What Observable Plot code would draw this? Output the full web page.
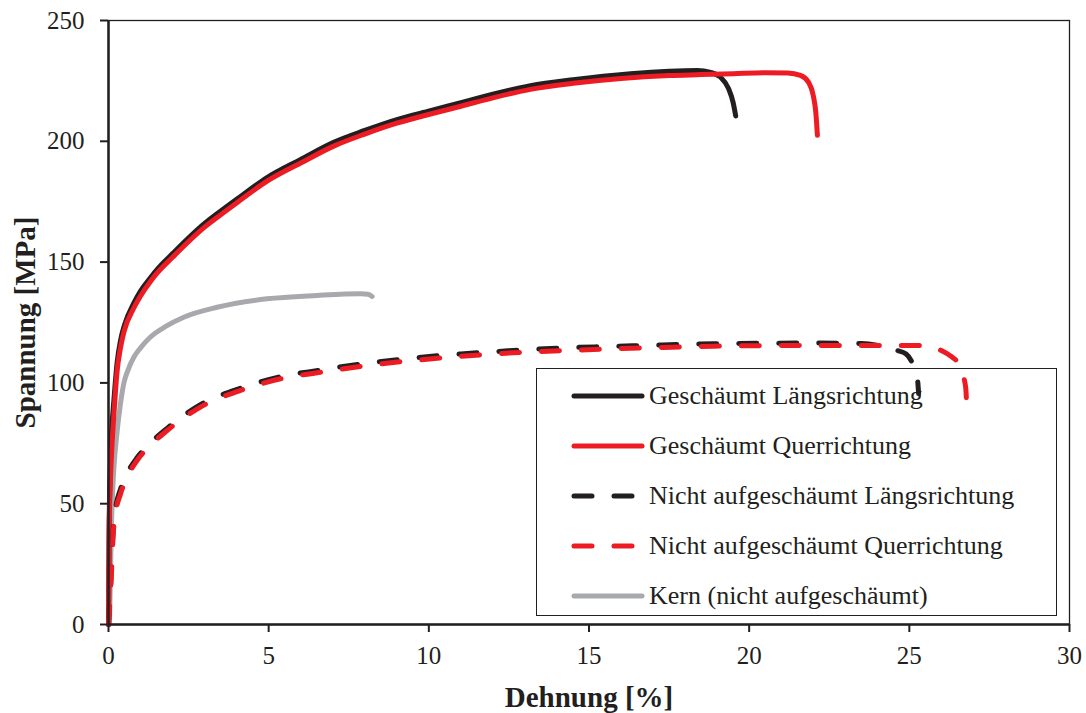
<!DOCTYPE html>
<html>
<head>
<meta charset="utf-8">
<script src="https://cdn.jsdelivr.net/npm/d3@7"></script>
<script src="https://cdn.jsdelivr.net/npm/@observablehq/plot@0.6"></script>
<style>
  html, body { margin: 0; padding: 0; background: #fff; }
  #wrap { position: relative; width: 1086px; height: 713px; }
  #wrap > svg { position: absolute; left: 0; top: 0; z-index: 2; background: transparent !important; }
  #legend {
    position: absolute; left: 536px; top: 368px; width: 519px; height: 246px;
    border: 1.5px solid #231f20; background: #fff; z-index: 1;
    font-family: "Liberation Serif", serif; font-size: 26px; color: #231f20;
  }
  .item { position: absolute; left: 0; height: 30px; display: flex; align-items: center; white-space: nowrap; }
  .item svg { margin-left: 34px; margin-right: 4px; }
</style>
</head>
<body>
<div id="wrap"></div>
<script>
// ---- data (strain [%], stress [MPa]) ----
const seriesNames = [
  "Geschäumt Längsrichtung",
  "Geschäumt Querrichtung",
  "Nicht aufgeschäumt Längsrichtung",
  "Nicht aufgeschäumt Querrichtung",
  "Kern (nicht aufgeschäumt)"
];
const xTicks = [0, 5, 10, 15, 20, 25, 30];
const yTicks = [0, 50, 100, 150, 200, 250];

const gesLaengs = [
  [0,0],[0.02,40],[0.05,62],[0.1,80],[0.17,93],[0.27,108.5],[0.375,117.5],[0.5,124],
  [0.79,133],[1.0,138],[1.31,143.5],[1.52,147],[2.0,153.5],[3.0,166],[3.39,170],
  [4.0,176],[4.95,185],[6.0,192.5],[7.03,199.6],[8.0,204.5],[9.0,209],[10.05,212.7],
  [11.0,216],[12.0,219.5],[13.17,223],[14.5,225.5],[16.3,228],[17.5,229],[18.38,229.3],
  [18.8,228.5],[19.1,226.6],[19.35,222],[19.5,216],[19.58,210.5]
];
const gesQuer = [
  [0,0],[0.02,38],[0.06,59.6],[0.1,72],[0.17,87],[0.27,105],[0.375,114.5],[0.48,121],
  [0.79,131],[1.0,136],[1.31,142],[1.52,145.5],[2.0,152],[3.0,164.5],[3.39,168.5],
  [4.0,174.5],[4.95,183.5],[6.0,191],[7.03,198],[8.0,203],[9.0,207.5],[10.05,211.3],
  [11.0,214.5],[12.0,218],[13.17,221.5],[14.5,224],[16.0,226],[17.5,227.2],[18.5,227.6],
  [19.5,228],[20.5,228.4],[21.2,228.3],[21.6,227.3],[21.85,224.5],[22.0,219],
  [22.08,212],[22.13,202.5]
];
const nichtLaengs = [
  [0,0],[0.08,20],[0.15,40],[0.22,48],[0.375,56],[0.6,63],[0.89,69],[1.3,75],[1.83,81.2],
  [2.87,91],[4.12,97.8],[5.37,102.6],[6.62,105.3],[8.08,108.2],[9.53,110.3],[11,112],
  [12.65,113.4],[14.2,114.5],[15.78,115.1],[17.3,115.7],[18.9,116.2],[20.5,116.4],
  [22.0,116.5],[23.5,116.3],[24.2,115],[24.6,113.5],[24.9,112],[25.1,108],[25.25,102],
  [25.29,95.6]
];
const nichtQuer = [
  [0,0],[0.08,18],[0.15,38],[0.22,46],[0.375,54],[0.6,61.5],[0.89,67.9],[1.3,74],
  [1.83,80.3],[2.87,90],[4.12,96.9],[5.37,101.7],[6.62,104.4],[8.08,107.2],[9.53,109.3],
  [11,111],[12.65,112.5],[14.2,113.4],[15.78,114.1],[17.3,114.7],[18.9,115.2],
  [20.5,115.4],[22.0,115.5],[24.1,115.5],[25.4,115.5],[26.0,113.4],[26.3,111],
  [26.5,108.6],[26.65,104],[26.76,98],[26.8,86.5]
];
const kern = [
  [0.03,0],[0.06,20],[0.09,40],[0.13,55],[0.17,65],[0.27,80],[0.38,92],[0.48,100],
  [0.6,105],[0.79,110.6],[1.0,114.5],[1.31,119],[1.8,123.5],[2.35,127.2],[3.39,131.3],
  [4.95,134.8],[6.51,136.2],[7.87,136.9],[8.1,136.7],[8.23,135.8]
];

const BLACK = "#231f20", RED = "#ed1c24", GRAY = "#a7a9ac";
const styles = [
  {data: gesLaengs, stroke: BLACK, dash: null},
  {data: gesQuer, stroke: RED, dash: null},
  {data: nichtLaengs, stroke: BLACK, dash: "18,22"},
  {data: nichtQuer, stroke: RED, dash: "18,22"},
  {data: kern, stroke: GRAY, dash: null}
];
const drawOrder = [4, 0, 1, 2, 3];

const lineMarks = drawOrder.map(i => Plot.line(styles[i].data, {
  x: d => d[0], y: d => d[1], stroke: styles[i].stroke, strokeWidth: 5,
  strokeLinecap: "round", strokeLinejoin: "round", curve: "monotone-x",
  strokeDasharray: styles[i].dash || undefined
}));

const chart = Plot.plot({
  width: 1086, height: 713,
  marginLeft: 108, marginRight: 17, marginTop: 20, marginBottom: 89,
  style: {fontFamily: "'Liberation Serif', serif", fontSize: "25px", color: BLACK, background: "transparent"},
  x: {domain: [0, 30]},
  y: {domain: [0, 250]},
  marks: [
    Plot.frame({stroke: BLACK, strokeWidth: 1.3}),
    ...lineMarks,
    Plot.ruleX([0], {stroke: BLACK, strokeWidth: 2.5}),
    Plot.ruleY([0], {stroke: BLACK, strokeWidth: 2.5}),
    Plot.axisX({ticks: xTicks, tickSize: 8, tickPadding: 14, label: null, stroke: BLACK, strokeWidth: 2, fill: BLACK}),
    Plot.axisY({ticks: yTicks, tickSize: 8, tickPadding: 16, label: null, stroke: BLACK, strokeWidth: 2, fill: BLACK}),
    Plot.text(["Dehnung [%]"], {frameAnchor: "bottom", dy: 73, lineAnchor: "middle", textAnchor: "middle", fontWeight: "bold", fontSize: 29, fill: BLACK}),
    Plot.text(["Spannung [MPa]"], {frameAnchor: "left", dx: -83, rotate: -90, lineAnchor: "middle", textAnchor: "middle", fontWeight: "bold", fontSize: 29, fill: BLACK})
  ]
});
const wrap = document.getElementById("wrap");

// legend (HTML, beneath the curves)
const legend = document.createElement("div");
legend.id = "legend";
seriesNames.forEach((name, i) => {
  const s = styles[i];
  const item = document.createElement("div");
  item.className = "item";
  item.style.top = (12 + i * 50) + "px";
  const dashAttr = s.dash ? `stroke-dasharray="${s.dash}"` : "";
  item.innerHTML = `<svg width="74" height="10"><line x1="3" y1="5" x2="71" y2="5" stroke="${s.stroke}" stroke-width="5" stroke-linecap="round" ${dashAttr}/></svg><span>${name}</span>`;
  legend.appendChild(item);
});
wrap.appendChild(legend);
wrap.appendChild(chart);
</script>
</body>
</html>
